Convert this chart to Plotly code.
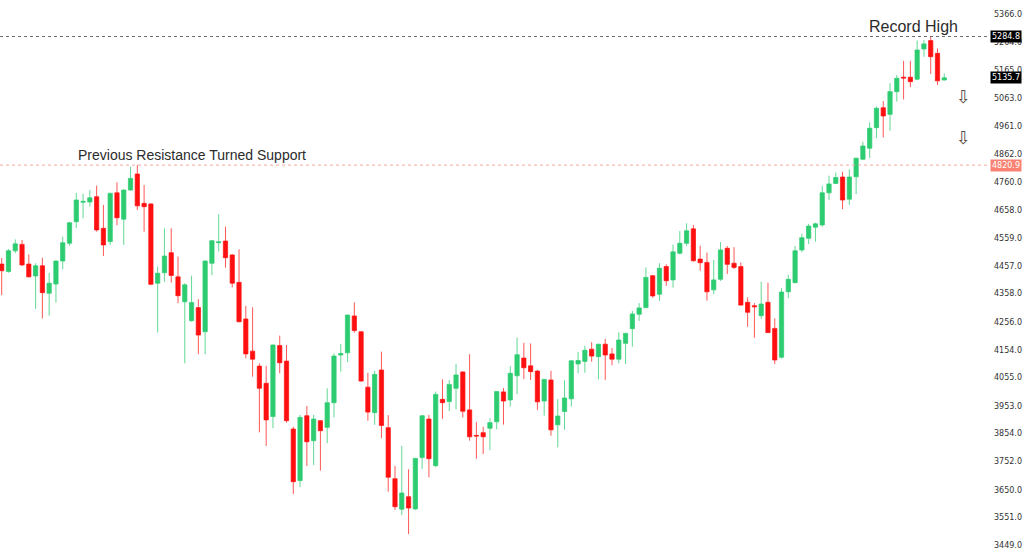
import plotly.graph_objects as go

# ---- data ----
opens = [4464, 4437, 4512, 4535, 4464, 4421, 4458, 4359, 4392, 4475,
         4539, 4617, 4687, 4688, 4707, 4593, 4545, 4721, 4626, 4731,
         4789, 4683, 4681, 4395, 4433, 4505, 4418, 4328, 4260, 4307,
         4220, 4467, 4541, 4547, 4497, 4398, 4266, 4150, 4096, 4034,
         3914, 4170, 4114, 3869, 3683, 3917, 3827, 3899, 3875, 3964,
         4136, 4144, 4277, 4220, 4020, 3928, 4082, 3874, 3690, 3580,
         3625, 3581, 3766, 3905, 3737, 3976, 3968, 4016, 4075, 3938,
         3846, 3856, 3872, 3895, 4003, 3974, 4061, 4125, 4097, 4078,
         3970, 4046, 3884, 3932, 3978, 4104, 4113, 4157, 4130, 4175,
         4140, 4121, 4178, 4231, 4283, 4307, 4422, 4355, 4455, 4407,
         4503, 4539, 4591, 4482, 4470, 4371, 4409, 4521, 4467, 4455,
         4326, 4314, 4278, 4326, 4232, 4128, 4364, 4397, 4515, 4557,
         4597, 4605, 4721, 4755, 4778, 4698, 4779, 4842, 4882, 4956,
         5028, 5004, 5086, 5138, 5138, 5131, 5240, 5270, 5224, 5128]
highs = [4486, 4518, 4553, 4551, 4499, 4467, 4487, 4432, 4477, 4563,
         4616, 4721, 4718, 4731, 4747, 4677, 4722, 4759, 4733, 4815,
         4821, 4749, 4683, 4455, 4593, 4593, 4491, 4395, 4422, 4337,
         4477, 4551, 4644, 4599, 4500, 4517, 4313, 4308, 4106, 4097,
         4174, 4206, 4172, 3877, 3920, 3952, 3920, 3901, 4016, 4142,
         4176, 4282, 4326, 4222, 4072, 4079, 4148, 3919, 3736, 3808,
         3724, 3765, 3919, 3920, 4004, 4048, 4046, 4104, 4077, 4139,
         3894, 3877, 3908, 4005, 4017, 4096, 4199, 4180, 4178, 4082,
         4050, 4079, 3977, 4045, 4117, 4147, 4169, 4182, 4176, 4194,
         4161, 4218, 4216, 4295, 4323, 4452, 4425, 4467, 4463, 4534,
         4583, 4611, 4605, 4530, 4505, 4479, 4543, 4529, 4525, 4470,
         4344, 4323, 4400, 4397, 4268, 4377, 4425, 4529, 4573, 4609,
         4613, 4746, 4783, 4794, 4797, 4806, 4847, 4905, 4975, 5032,
         5052, 5116, 5146, 5197, 5197, 5270, 5272, 5284.8, 5242, 5152]
lows = [4352, 4433, 4503, 4457, 4415, 4302, 4268, 4278, 4325, 4445,
        4530, 4594, 4629, 4671, 4581, 4493, 4533, 4604, 4533, 4729,
        4659, 4581, 4388, 4217, 4400, 4397, 4323, 4106, 4256, 4139,
        4139, 4424, 4509, 4451, 4380, 4254, 4124, 4058, 3857, 3808,
        3872, 4070, 3892, 3634, 3659, 3736, 3739, 3719, 3818, 3911,
        4076, 4110, 4217, 4040, 3899, 3884, 3836, 3643, 3577, 3558,
        3490, 3578, 3725, 3695, 3731, 3906, 3934, 3940, 3911, 3827,
        3762, 3779, 3793, 3868, 3885, 3950, 3995, 4049, 4046, 3938,
        3917, 3845, 3803, 3866, 3950, 4070, 4072, 4112, 4048, 4046,
        4099, 4106, 4104, 4166, 4259, 4304, 4343, 4331, 4386, 4379,
        4499, 4530, 4473, 4440, 4332, 4355, 4403, 4428, 4446, 4314,
        4238, 4198, 4266, 4215, 4103, 4123, 4341, 4395, 4507, 4536,
        4545, 4599, 4695, 4753, 4662, 4677, 4716, 4839, 4846, 4918,
        4921, 4945, 5050, 5058, 5102, 5128, 5212, 5150, 5110, 5126]
closes = [4440, 4512, 4537, 4461, 4418, 4458, 4361, 4395, 4475, 4541,
          4613, 4695, 4690, 4703, 4587, 4533, 4719, 4631, 4731, 4773,
          4674, 4671, 4391, 4431, 4493, 4423, 4350, 4389, 4325, 4208,
          4475, 4548, 4544, 4487, 4395, 4256, 4140, 4121, 4016, 3902,
          4172, 4108, 3899, 3679, 3911, 3823, 3905, 3863, 3964, 4132,
          4141, 4280, 4224, 4042, 3930, 4066, 3882, 3695, 3589, 3638,
          3584, 3763, 3917, 3762, 3994, 3964, 4030, 4064, 3933, 3841,
          3844, 3841, 3892, 4004, 3970, 4070, 4137, 4090, 4076, 3967,
          4048, 3866, 3916, 3981, 4115, 4116, 4153, 4132, 4175, 4136,
          4121, 4190, 4214, 4284, 4306, 4416, 4349, 4449, 4404, 4508,
          4539, 4584, 4476, 4469, 4364, 4407, 4515, 4463, 4452, 4316,
          4290, 4310, 4320, 4217, 4118, 4363, 4409, 4512, 4559, 4601,
          4609, 4721, 4753, 4776, 4695, 4778, 4846, 4890, 4954, 5026,
          4998, 5086, 5134, 5135, 5122, 5236, 5258, 5212, 5125, 5135.7]
bars = list(range(len(opens)))

tick_values = [5366, 5264, 5165, 5063, 4961, 4862, 4760, 4658, 4559, 4457,
               4358, 4256, 4154, 4055, 3953, 3854, 3752, 3650, 3551, 3449]
tick_labels = ["%.1f" % v for v in tick_values]

record_high = 5284.8
support_level = 4820.9
last_price = 5135.7
record_text = "Record High"
support_text = "Previous Resistance Turned Support"

GREEN = "#2ecc71"
RED = "#ff1010"

fig = go.Figure()
fig.add_trace(go.Candlestick(
    x=bars, open=opens, high=highs, low=lows, close=closes,
    increasing=dict(line=dict(color="rgba(46,204,113,0.75)", width=1), fillcolor=GREEN),
    decreasing=dict(line=dict(color="rgba(255,16,16,0.7)", width=1), fillcolor=RED),
    whiskerwidth=0, showlegend=False, hoverinfo="skip",
))

# horizontal levels
fig.add_shape(type="line", xref="paper", x0=0, x1=1, yref="y",
              y0=record_high, y1=record_high,
              line=dict(color="#6e6e6e", width=1, dash="dot"))
fig.add_shape(type="line", xref="paper", x0=0, x1=1, yref="y",
              y0=support_level, y1=support_level,
              line=dict(color="#f6a89c", width=1, dash="dot"))

# text annotations
fig.add_annotation(x=134.4, y=record_high, xref="x", yref="y", text=record_text,
                   showarrow=False, yanchor="bottom", xanchor="center",
                   font=dict(family="Liberation Sans", size=16, color="#2b2b2b"))
fig.add_annotation(x=28.1, y=support_level, xref="x", yref="y", text=support_text,
                   showarrow=False, yanchor="bottom", xanchor="center",
                   font=dict(family="Liberation Sans", size=14, color="#2b2b2b"))

# down arrows
for yv in (5068, 4921):
    fig.add_annotation(x=141.9, y=yv, xref="x", yref="y", text="\u21e9",
                       showarrow=False, xanchor="center", yanchor="middle",
                       font=dict(family="DejaVu Sans", size=18, color="#5a4e44"))

# price label boxes on the axis
for val, bg in ((record_high, "#000000"), (last_price, "#000000"), (support_level, "#f98272")):
    fig.add_annotation(x=1, y=val, xref="paper", yref="y", text="%.1f" % val,
                       showarrow=False, xanchor="left", yanchor="middle", xshift=3,
                       bgcolor=bg, borderpad=1,
                       font=dict(family="DejaVu Sans", size=8, color="#ffffff"))

fig.update_layout(
    width=1024, height=560,
    margin=dict(l=0, r=37, t=0, b=0),
    paper_bgcolor="white", plot_bgcolor="white",
    boxgap=0.37, boxgroupgap=0,
    showlegend=False,
    xaxis=dict(range=[-0.25, 145.3], visible=False, rangeslider=dict(visible=False),
               showgrid=False, zeroline=False),
    yaxis=dict(range=[3396.6, 5416.5], side="right", showgrid=False, zeroline=False,
               tickmode="array", tickvals=tick_values, ticktext=tick_labels,
               ticks="", showline=False, ticklabelstandoff=6,
               tickfont=dict(family="DejaVu Sans", size=8, color="#333333")),
)

fig.write_html("out.html", config={"displayModeBar": False},
               post_script="document.body.style.margin='0';document.body.style.overflow='hidden';")
